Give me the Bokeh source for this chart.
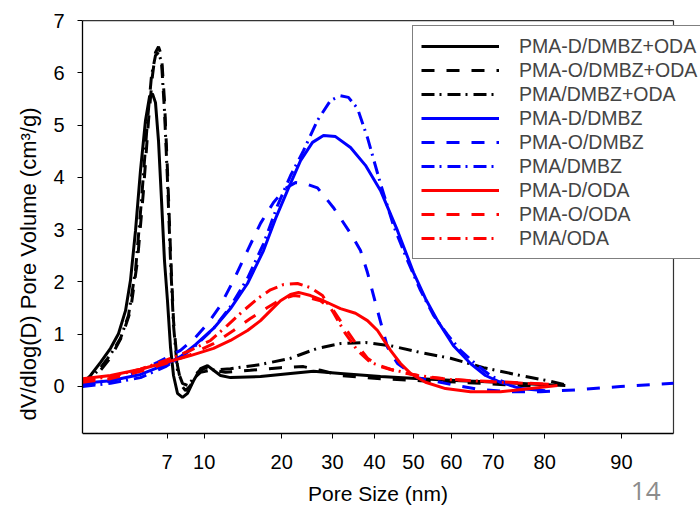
from bokeh.plotting import figure
from bokeh.models import FixedTicker, Legend, LegendItem, Label, Range1d
from bokeh.embed import file_html
from bokeh.resources import INLINE

# ---- axis definition (x is an axis-position scale 0..100, labelled in nm) ----
x_tick_pos = [14.3, 20.6, 33.7, 42.3, 49.4, 56.0, 62.4, 69.5, 78.2, 91.2]
x_tick_lab = ["7", "10", "20", "30", "40", "50", "60", "70", "80", "90"]
x_bounds = (0, 100)
y_bounds = (-0.9, 7)
y_ticks = [0, 1, 2, 3, 4, 5, 6, 7]
page_number = "14"

# ---- PMA-D/DMBZ+ODA (black solid) ----
k1_x = [0, 1.35, 3.05, 4.74, 6.09, 7.28, 8.12, 8.97, 9.81, 10.66, 11.34, 11.84, 12.35, 12.86,
        13.37, 13.87, 14.38, 14.89, 15.40, 16.07, 16.92, 17.77, 18.78, 19.97, 21.15, 22.17,
        23.35, 25.04, 30.12, 35.19, 39.09, 43.65, 50.42, 57.19, 63.96, 70.73, 77.50, 81.7]
k1_y = [0.06, 0.21, 0.46, 0.73, 1.01, 1.45, 2.03, 2.98, 4.13, 5.09, 5.54, 5.60, 5.43, 4.70,
        3.56, 2.41, 1.64, 0.75, 0.21, -0.13, -0.21, -0.13, 0.11, 0.34, 0.40, 0.31,
        0.21, 0.17, 0.19, 0.25, 0.29, 0.25, 0.19, 0.15, 0.11, 0.08, 0.04, 0.02]

# ---- PMA-O/DMBZ+ODA (black dashed) ----
k2_x = [0, 1.35, 3.05, 4.74, 6.77, 8.12, 9.31, 10.32, 11.17, 11.84, 12.35, 12.86, 13.37, 13.87,
        14.38, 14.89, 15.40, 16.07, 16.75, 17.43, 18.27, 19.46, 20.81, 22.17, 24.2, 28.4,
        33.5, 37.39, 40.27, 43.65, 50.42, 57.19, 63.96, 70.73, 77.5]
k2_y = [0.0, 0.11, 0.31, 0.55, 0.98, 1.45, 2.41, 3.75, 5.09, 5.95, 6.39, 6.50, 6.33, 5.47,
        4.13, 2.60, 1.26, 0.40, 0.02, -0.08, 0.02, 0.27, 0.36, 0.31, 0.27, 0.31,
        0.36, 0.38, 0.31, 0.21, 0.15, 0.11, 0.08, 0.04, 0.0]

# ---- PMA/DMBZ+ODA (black dash-dot) ----
k3_x = [0, 1.35, 3.05, 4.74, 6.43, 7.78, 8.97, 9.98, 11.0, 11.68, 12.35, 12.86, 13.37, 13.87,
        14.38, 14.89, 15.40, 16.07, 16.92, 17.77, 18.78, 19.97, 21.66, 25.04, 30.12, 35.19,
        39.76, 43.65, 47.9, 52.12, 57.19, 62.27, 67.85, 74.11, 79.19, 82.06]
k3_y = [0.02, 0.15, 0.36, 0.61, 0.92, 1.36, 2.22, 3.56, 5.09, 5.95, 6.33, 6.39, 6.2, 5.28,
        3.94, 2.41, 1.17, 0.31, 0.06, 0.02, 0.15, 0.27, 0.31, 0.34, 0.42, 0.54,
        0.73, 0.82, 0.84, 0.78, 0.65, 0.54, 0.36, 0.21, 0.10, 0.02]

# ---- PMA-D/DMBZ (blue solid) ----
b1_x = [0, 4.74, 9.81, 14.04, 16.58, 19.12, 22.17, 25.04, 27.92, 30.63, 32.66, 34.69, 36.89,
        38.92, 40.78, 42.81, 45.35, 47.88, 50.42, 53.30, 56.01, 58.04, 60.07, 62.77, 65.65,
        68.19, 70.73, 74.11, 78.3]
b1_y = [0.06, 0.11, 0.23, 0.42, 0.57, 0.80, 1.11, 1.49, 1.97, 2.60, 3.21, 3.75, 4.32,
        4.67, 4.80, 4.78, 4.57, 4.23, 3.75, 2.98, 2.18, 1.68, 1.26, 0.78, 0.44,
        0.21, 0.08, -0.04, -0.08]

# ---- PMA-O/DMBZ (blue dashed) ----
b2_x = [0, 4.74, 9.81, 12.69, 16.58, 19.12, 21.15, 23.35, 25.55, 27.92, 30.12, 32.32, 34.35,
        36.04, 37.73, 39.76, 42.47, 45.35, 47.04, 48.22, 49.92, 51.61, 53.30, 56.68, 62.27,
        67.34, 72.42, 77.5, 84.26, 91.03, 100]
b2_y = [0.02, 0.10, 0.31, 0.46, 0.69, 0.94, 1.20, 1.55, 2.03, 2.60, 3.12, 3.52, 3.79,
        3.90, 3.88, 3.80, 3.42, 2.93, 2.60, 2.18, 1.45, 0.75, 0.44, 0.17, 0.04,
        -0.06, -0.10, -0.10, -0.06, 0.0, 0.06]

# ---- PMA/DMBZ (blue dash-dot) ----
b3_x = [0, 4.74, 9.81, 14.04, 16.58, 19.12, 22.17, 25.04, 27.92, 30.63, 33.0, 35.19, 37.39,
        39.76, 41.96, 43.65, 45.0, 46.53, 48.22, 50.42, 52.62, 54.99, 57.19, 59.39, 61.76,
        63.96, 66.84, 69.04, 70.73, 72.42]
b3_y = [0.0, 0.06, 0.17, 0.38, 0.55, 0.78, 1.11, 1.53, 2.07, 2.73, 3.46, 4.03, 4.51,
        5.09, 5.47, 5.56, 5.53, 5.32, 4.76, 3.88, 3.08, 2.41, 1.84, 1.36, 0.99,
        0.69, 0.40, 0.21, 0.11, 0.04]

# ---- PMA-D/ODA (red solid) ----
r1_x = [0, 4.74, 9.81, 14.04, 18.27, 22.17, 25.04, 27.92, 30.12, 31.81, 33.50, 35.19, 36.55,
        38.58, 40.78, 43.65, 46.19, 48.22, 49.92, 52.12, 53.81, 55.5, 58.04, 61.42, 65.65,
        70.73, 75.8, 80.37]
r1_y = [0.15, 0.21, 0.33, 0.46, 0.59, 0.73, 0.88, 1.07, 1.26, 1.45, 1.64, 1.76, 1.80,
        1.74, 1.64, 1.49, 1.40, 1.26, 1.07, 0.69, 0.44, 0.25, 0.08, -0.04, -0.10,
        -0.10, -0.04, 0.02]

# ---- PMA-O/ODA (red dashed) ----
r2_x = [0, 4.74, 9.81, 14.04, 18.27, 22.17, 25.55, 28.4, 31.30, 33.50, 35.70, 37.56, 40.27,
        42.47, 44.5, 46.53, 48.22, 50.42, 53.81, 58.88, 65.65, 72.42, 79.19]
r2_y = [0.08, 0.15, 0.29, 0.44, 0.61, 0.82, 1.07, 1.30, 1.51, 1.66, 1.74, 1.72, 1.64,
        1.45, 1.11, 0.78, 0.54, 0.38, 0.27, 0.17, 0.11, 0.08, 0.04]

# ---- PMA/ODA (red dash-dot) ----
r3_x = [0, 4.74, 9.81, 14.04, 18.27, 21.66, 24.53, 27.24, 29.61, 31.81, 34.01, 36.38, 38.58,
        40.61, 42.47, 44.5, 46.53, 48.73, 52.12, 56.68, 62.27, 70.73, 79.19]
r3_y = [0.11, 0.19, 0.33, 0.50, 0.69, 0.88, 1.17, 1.45, 1.68, 1.85, 1.95, 1.97, 1.89,
        1.74, 1.41, 1.01, 0.69, 0.46, 0.33, 0.21, 0.13, 0.08, 0.04]

series = [
    ("PMA-D/DMBZ+ODA", k1_x, k1_y, "black", "solid"),
    ("PMA-O/DMBZ+ODA", k2_x, k2_y, "black", "13 12"),
    ("PMA/DMBZ+ODA", k3_x, k3_y, "black", "13 5 2 6"),
    ("PMA-D/DMBZ", b1_x, b1_y, "#0000FF", "solid"),
    ("PMA-O/DMBZ", b2_x, b2_y, "#0000FF", "13 12"),
    ("PMA/DMBZ", b3_x, b3_y, "#0000FF", "13 5 2 6"),
    ("PMA-D/ODA", r1_x, r1_y, "#FF0000", "solid"),
    ("PMA-O/ODA", r2_x, r2_y, "#FF0000", "13 12"),
    ("PMA/ODA", r3_x, r3_y, "#FF0000", "13 5 2 6"),
]

FONT = "Liberation Sans"

# The frame spans the whole canvas right of / below the axes so that the
# legend and page number (which overhang the plot box) are not clipped.
p = figure(width=700, height=508, output_backend="svg", toolbar_location=None,
           x_range=Range1d(0, 104.57), y_range=Range1d(-2.334, 7.02),
           min_border_left=82, min_border_right=0, min_border_top=19, min_border_bottom=0)
p.xgrid.visible = False
p.ygrid.visible = False
p.outline_line_color = None
p.background_fill_color = "white"
p.border_fill_color = "white"

# plot box (top and right edges)
p.segment(x0=[x_bounds[0], x_bounds[1]], y0=[y_bounds[1], y_bounds[0]],
          x1=[x_bounds[1], x_bounds[1]], y1=[y_bounds[1], y_bounds[1]],
          line_color="#333333", line_width=1.2)

items = []
for name, xs, ys, col, dash in series:
    r = p.line(xs, ys, line_color=col, line_width=3, line_dash=dash)
    items.append(LegendItem(label=name, renderers=[r]))

# x axis, pinned at the bottom of the plot box
p.xaxis.ticker = FixedTicker(ticks=x_tick_pos)
p.xaxis.major_label_overrides = {pos: lab for pos, lab in zip(x_tick_pos, x_tick_lab)}
p.xaxis.axis_label = "Pore Size (nm)"
p.xaxis.fixed_location = y_bounds[0]
p.xaxis.bounds = x_bounds
# y axis
p.yaxis.ticker = FixedTicker(ticks=y_ticks)
p.yaxis.axis_label = "dV/dlog(D) Pore Volume (cm\u00b3/g)"
p.yaxis.bounds = y_bounds

for ax in (p.xaxis[0], p.yaxis[0]):
    ax.minor_tick_line_color = None
    ax.major_tick_in = 0
    ax.major_tick_out = 5
    ax.axis_line_color = "black"
    ax.axis_line_width = 1.3
    ax.major_tick_line_color = "black"
    ax.major_label_text_font = FONT
    ax.major_label_text_font_size = "20px"
    ax.major_label_text_color = "black"
    ax.axis_label_text_font = FONT
    ax.axis_label_text_font_size = "21px"
    ax.axis_label_text_font_style = "normal"
    ax.axis_label_text_color = "black"

p.yaxis.axis_label_text_font_size = "22px"
p.xaxis.major_label_standoff = 16
p.xaxis.axis_label_standoff = 10
p.yaxis.major_label_standoff = 13
p.yaxis.axis_label_standoff = 9

legend = Legend(items=items, location=(330, 249), orientation="vertical",
                glyph_width=78, glyph_height=24, label_height=24, spacing=0,
                padding=8, margin=0, label_standoff=20,
                label_text_font=FONT, label_text_font_size="19.5px",
                border_line_color="black", border_line_width=1,
                background_fill_color="white", background_fill_alpha=1)
p.add_layout(legend)

p.add_layout(Label(x=95.3, y=-1.99, text=page_number, text_font="Open Sans",
                   text_font_size="26px", text_color="#8c8c8c",
                   text_align="center", text_baseline="middle"))

open("out.html", "w").write(file_html(p, INLINE))
